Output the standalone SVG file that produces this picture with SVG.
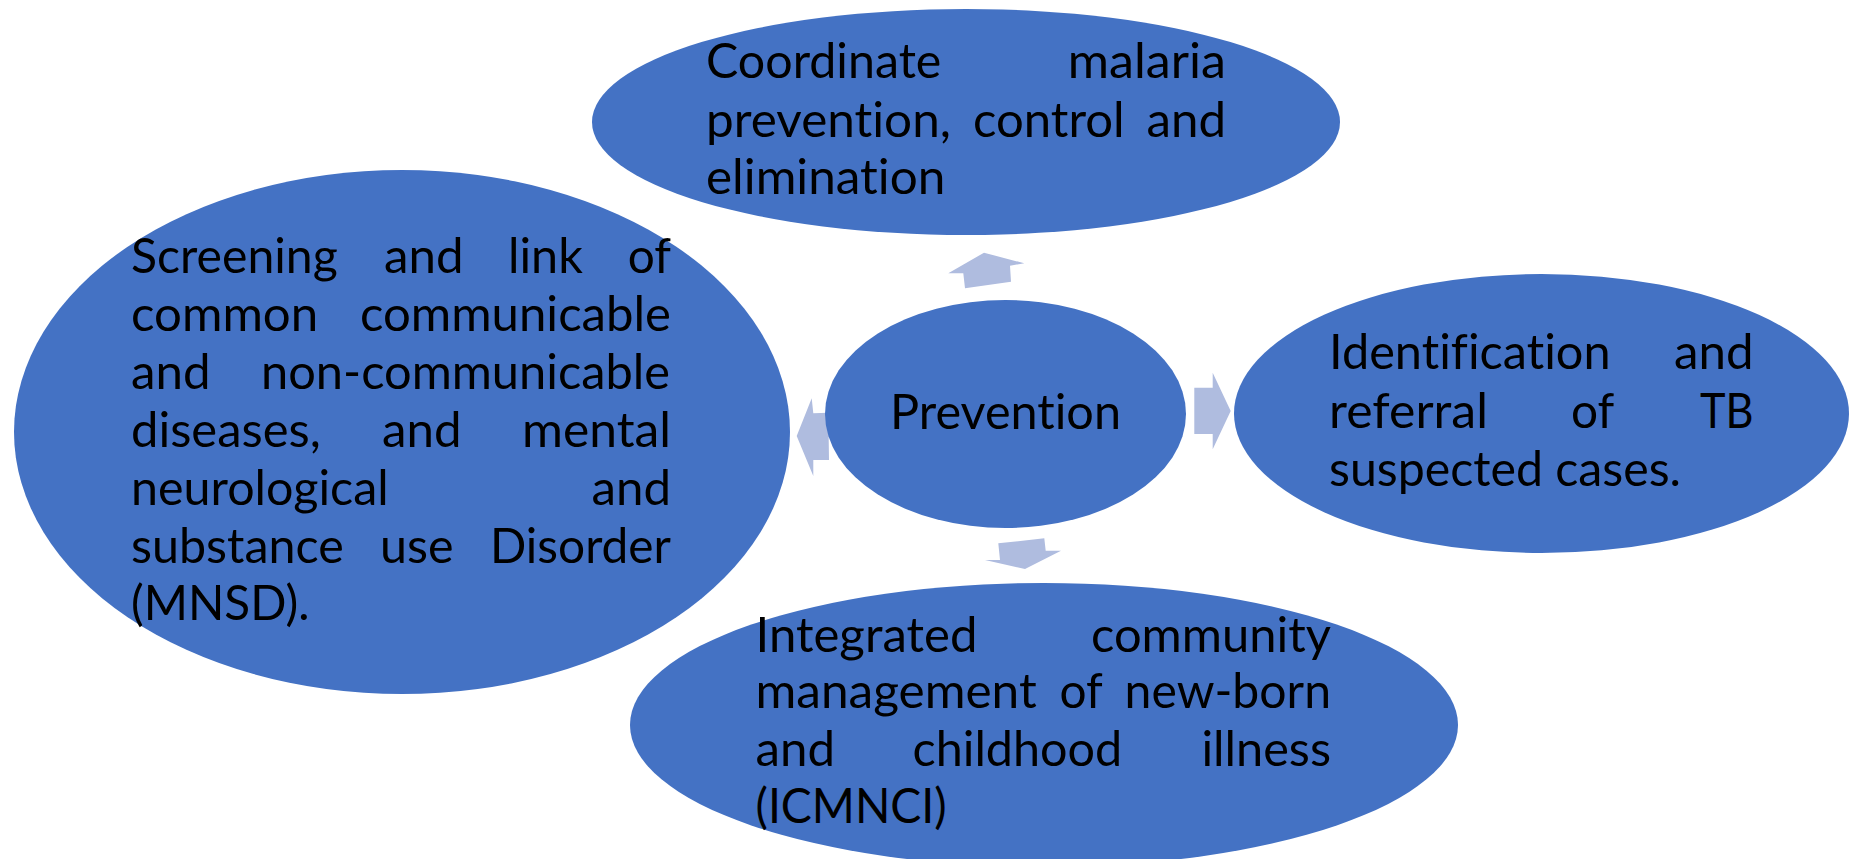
<svg xmlns="http://www.w3.org/2000/svg" width="1854" height="859" viewBox="0 0 1854 859">
<style>
.node{fill:#4472C4;}
.arr{fill:#AFBCDF;}
text{font-family:Lato,"Open Sans","Liberation Sans",sans-serif;font-size:49px;fill:#000;font-variant-ligatures:none;font-feature-settings:"liga" 0,"clig" 0;}
</style>
<rect x="0" y="0" width="1854" height="859" fill="#FFFFFF"/>
<g id="connectors">
<polygon class="arr" points="984,252.7 1024.3,263.3 1010,265.7 1011,281.7 965,288.3 963.3,273.3 948.3,273.3"/>
<polygon class="arr" points="796.7,436 811.7,398.3 813.3,413.3 828.3,412.7 829,460 813.3,460 813.3,476"/>
<polygon class="arr" points="1194.3,387.7 1212.7,387.7 1212.7,372.7 1230.7,411 1212.7,449.3 1212.7,434 1194.3,434"/>
<polygon class="arr" points="998.3,543.3 1044.3,538.3 1045.7,550.7 1061,550.7 1025,569 985,560 1000,560"/>
</g>
<g id="node-top">
<ellipse class="node" cx="966" cy="122" rx="374" ry="113"/>
<text x="706" y="78" textLength="235.4" lengthAdjust="spacingAndGlyphs">Coordinate</text>
<text x="1067.8" y="78" textLength="158.2" lengthAdjust="spacingAndGlyphs">malaria</text>
<text x="706" y="137" textLength="245" lengthAdjust="spacingAndGlyphs">prevention,</text>
<text x="973" y="137" textLength="151.6" lengthAdjust="spacingAndGlyphs">control</text>
<text x="1146.5" y="137" textLength="79.5" lengthAdjust="spacingAndGlyphs">and</text>
<text x="706" y="194" textLength="239.4" lengthAdjust="spacingAndGlyphs">elimination</text>
</g>
<g id="node-left">
<ellipse class="node" cx="402" cy="432" rx="388" ry="262"/>
<text x="131" y="273" textLength="206.8" lengthAdjust="spacingAndGlyphs">Screening</text>
<text x="384" y="273" textLength="79.5" lengthAdjust="spacingAndGlyphs">and</text>
<text x="508" y="273" textLength="74.8" lengthAdjust="spacingAndGlyphs">link</text>
<text x="627.7" y="273" textLength="43.3" lengthAdjust="spacingAndGlyphs">of</text>
<text x="131" y="331" textLength="187.2" lengthAdjust="spacingAndGlyphs">common</text>
<text x="360" y="331" textLength="311" lengthAdjust="spacingAndGlyphs">communicable</text>
<text x="131" y="389" textLength="79.5" lengthAdjust="spacingAndGlyphs">and</text>
<text x="261" y="389" textLength="409" lengthAdjust="spacingAndGlyphs">non-communicable</text>
<text x="131" y="447" textLength="189.9" lengthAdjust="spacingAndGlyphs">diseases,</text>
<text x="382" y="447" textLength="79.5" lengthAdjust="spacingAndGlyphs">and</text>
<text x="522" y="447" textLength="149" lengthAdjust="spacingAndGlyphs">mental</text>
<text x="131" y="505" textLength="257.7" lengthAdjust="spacingAndGlyphs">neurological</text>
<text x="591.5" y="505" textLength="79.5" lengthAdjust="spacingAndGlyphs">and</text>
<text x="131" y="563" textLength="212.8" lengthAdjust="spacingAndGlyphs">substance</text>
<text x="380" y="563" textLength="73.5" lengthAdjust="spacingAndGlyphs">use</text>
<text x="490" y="563" textLength="181" lengthAdjust="spacingAndGlyphs">Disorder</text>
<text x="131" y="620" textLength="178.5" lengthAdjust="spacingAndGlyphs">(MNSD).</text>
</g>
<g id="node-center">
<ellipse class="node" cx="1005.5" cy="414" rx="180.5" ry="114"/>
<text x="1005.5" y="429" text-anchor="middle" textLength="231" lengthAdjust="spacingAndGlyphs">Prevention</text>
</g>
<g id="node-right">
<ellipse class="node" cx="1541.5" cy="413.5" rx="307.5" ry="139.5"/>
<text x="1329" y="369" textLength="281.6" lengthAdjust="spacingAndGlyphs">Identification</text>
<text x="1674" y="369" textLength="79.5" lengthAdjust="spacingAndGlyphs">and</text>
<text x="1329" y="428" textLength="159" lengthAdjust="spacingAndGlyphs">referral</text>
<text x="1571" y="428" textLength="43.3" lengthAdjust="spacingAndGlyphs">of</text>
<text x="1699.9" y="428" textLength="53.6" lengthAdjust="spacingAndGlyphs">TB</text>
<text x="1329" y="486" textLength="352" lengthAdjust="spacingAndGlyphs">suspected cases.</text>
</g>
<g id="node-bottom">
<ellipse class="node" cx="1044" cy="725" rx="414" ry="142"/>
<text x="755.5" y="652" textLength="221.9" lengthAdjust="spacingAndGlyphs">Integrated</text>
<text x="1091" y="652" textLength="240" lengthAdjust="spacingAndGlyphs">community</text>
<text x="755.5" y="708" textLength="281.2" lengthAdjust="spacingAndGlyphs">management</text>
<text x="1059.5" y="708" textLength="43.3" lengthAdjust="spacingAndGlyphs">of</text>
<text x="1124.6" y="708" textLength="206.4" lengthAdjust="spacingAndGlyphs">new-born</text>
<text x="755.5" y="766" textLength="79.5" lengthAdjust="spacingAndGlyphs">and</text>
<text x="912.5" y="766" textLength="209.8" lengthAdjust="spacingAndGlyphs">childhood</text>
<text x="1201.4" y="766" textLength="129.6" lengthAdjust="spacingAndGlyphs">illness</text>
<text x="755.5" y="823" textLength="191.2" lengthAdjust="spacingAndGlyphs">(ICMNCI)</text>
</g>
</svg>
